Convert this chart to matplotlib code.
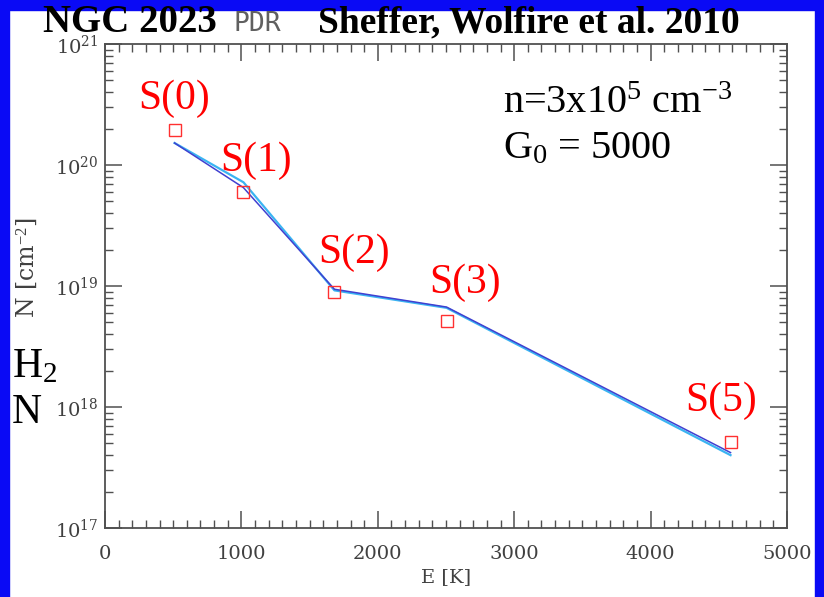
import matplotlib
matplotlib.use("Agg")
import matplotlib.pyplot as plt
import matplotlib.patches as patches
from matplotlib.ticker import MultipleLocator, LogLocator, NullFormatter

plt.rcParams["mathtext.fontset"] = "custom"
plt.rcParams["mathtext.rm"] = "Liberation Serif"
plt.rcParams["mathtext.it"] = "Liberation Serif:italic"

# Energien der H2-Niveaus (K) und beobachtete Saeulendichten
lines_names = ["S(0)", "S(1)", "S(2)", "S(3)", "S(5)"]
energy = [510, 1015, 1682, 2504, 4586]
n_obs = [1.95e20, 6.0e19, 8.9e18, 5.1e18, 5.1e17]

# Modellkurven (zwei fast identische Modelle)
model_dark = [1.52e20, 6.5e19, 9.4e18, 6.7e18, 4.2e17]
model_light = [1.52e20, 7.2e19, 9.2e18, 6.6e18, 4.0e17]

# Position der Beschriftungen (E, N an der Unterkante)
label_x = [506, 1107, 1826, 2640, 4516]
label_y = [2.45e20, 7.5e19, 1.31e19, 7.4e18, 7.8e17]

W, H = 824, 597
fig = plt.figure(figsize=(W / 100, H / 100), dpi=100)
fig.patch.set_facecolor("white")

# Blauer Rahmen (links, oben, rechts)
blue = "#0a0af5"
fig.patches.append(patches.Rectangle((0, 0), 9 / W, 1, transform=fig.transFigure, color=blue, zorder=0))
fig.patches.append(patches.Rectangle((0, 1 - 10 / H), 1, 10 / H, transform=fig.transFigure, color=blue, zorder=0))
fig.patches.append(patches.Rectangle((1 - 9 / W, 0), 9 / W, 1, transform=fig.transFigure, color=blue, zorder=0))

ax = fig.add_axes([105 / W, (H - 528) / H, 682 / W, 484 / H])
ax.set_xlim(0, 5000)
ax.set_yscale("log")
ax.set_ylim(1e17, 1e21)

gray = "#505050"
for s in ax.spines.values():
    s.set_color(gray)
    s.set_linewidth(1.3)

ax.xaxis.set_major_locator(MultipleLocator(1000))
ax.xaxis.set_minor_locator(MultipleLocator(100))
ax.yaxis.set_major_locator(LogLocator(base=10))
ax.yaxis.set_minor_locator(LogLocator(base=10, subs=range(2, 10)))
ax.yaxis.set_minor_formatter(NullFormatter())
ax.tick_params(which="both", direction="in", top=True, right=True, colors=gray)
ax.tick_params(which="major", length=12, width=1.1, labelsize=14)
ax.tick_params(which="minor", length=6, width=1.0)
ax.tick_params(axis="x", which="major", pad=12)
ax.tick_params(axis="y", which="major", pad=5)
for lab in ax.get_xticklabels() + ax.get_yticklabels():
    lab.set_family("DejaVu Serif")
    lab.set_color("#404040")

ax.plot(energy, model_light, color="#3ab4f2", lw=1.6, zorder=2)
ax.plot(energy, model_dark, color="#4040d0", lw=1.1, zorder=3)
ax.plot(energy, n_obs, ls="none", marker="s", ms=8, mfc="none", mec="#ff3030", mew=1.0, zorder=4)

# Beschriftung der Linien
for name, lx, ly in zip(lines_names, label_x, label_y):
    ax.text(lx, ly, name, color="red", fontsize=30, family="Liberation Serif",
            ha="center", va="bottom")

ax.text(0.584, 0.915, r"n=3x10$^5$ cm$^{-3}$", transform=ax.transAxes, fontsize=29,
        family="Liberation Serif", ha="left", va="top")
ax.text(0.584, 0.822, r"G$_0$ = 5000", transform=ax.transAxes, fontsize=29,
        family="Liberation Serif", ha="left", va="top")

ax.set_xlabel("E [K]", fontsize=14, family="DejaVu Serif", color="#404040", labelpad=4)

# Titel
fig.text(43 / W, 1 - 32 / H, "NGC 2023", fontsize=28, fontweight="bold",
         family="Liberation Serif", ha="left", va="baseline")
fig.text(234 / W, 1 - 31 / H, "PDR", fontsize=19, family="DejaVu Sans Mono",
         color="#606060", ha="left", va="baseline")
fig.text(318 / W, 1 - 32 / H, "Sheffer, Wolfire et al. 2010", fontsize=27, fontweight="bold",
         family="Liberation Serif", ha="left", va="baseline")

# y-Achsenbeschriftung
fig.text(27 / W, 1 - 268 / H, r"N [cm$^{-2}$]", fontsize=17, family="DejaVu Serif",
         color="#404040", rotation=90, ha="center", va="center")
fig.text(12 / W, 1 - 377 / H, r"H$_2$", fontsize=30, family="Liberation Serif",
         ha="left", va="baseline")
fig.text(12 / W, 1 - 423 / H, "N", fontsize=30, family="Liberation Serif",
         ha="left", va="baseline")

fig.savefig("out.png", dpi=100, facecolor=fig.get_facecolor())
